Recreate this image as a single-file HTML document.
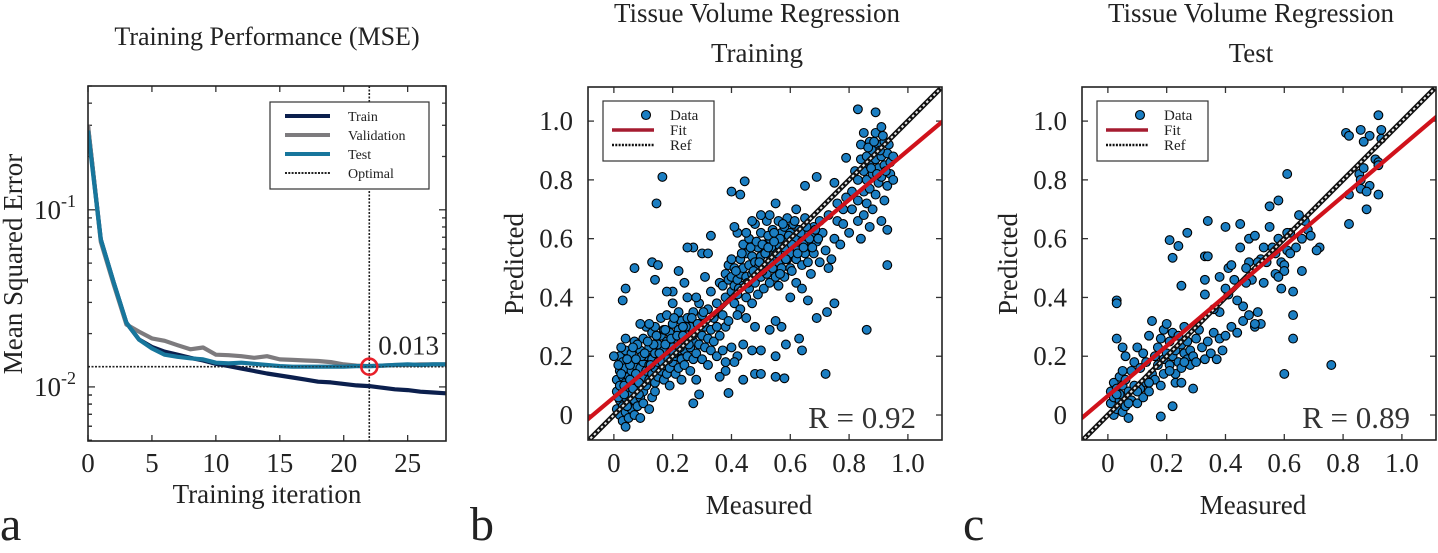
<!DOCTYPE html>
<html><head><meta charset="utf-8"><style>
html,body{margin:0;padding:0;background:#fff;}
svg, svg text{font-family:"Liberation Serif","DejaVu Serif","Noto Serif CJK SC",serif;}
</style></head><body>
<svg id="fig" width="1438" height="548" viewBox="0 0 1438 548" xmlns="http://www.w3.org/2000/svg">
<defs>
<clipPath id="clipA"><rect x="88" y="86" width="358" height="355"/></clipPath>
<clipPath id="clipB"><rect x="588" y="87" width="354" height="353"/></clipPath>
<clipPath id="clipC"><rect x="1082" y="87" width="354" height="353"/></clipPath>
</defs>
<g id="gA"></g>
<g id="gB"></g>
<g id="gC"></g>
</svg>
<script>
// ---------- Panel A data ----------
const iters = [0,1,2,3,4,5,6,7,8,9,10,11,12,13,14,15,16,17,18,19,20,21,22,23,24,25,26,27,28];
const trainMSE = [0.295,0.068,0.039,0.023,0.0185,0.0168,0.0158,0.0152,0.0146,0.0141,0.0135,0.0131,0.0127,0.0123,0.0119,0.0116,0.0113,0.0110,0.0107,0.0106,0.0104,0.0102,0.0101,0.0099,0.0097,0.0096,0.0094,0.0093,0.0092];
const valMSE = [0.30,0.066,0.038,0.0225,0.0205,0.0188,0.0182,0.0172,0.0163,0.0167,0.0152,0.0151,0.0149,0.0146,0.0149,0.0143,0.0142,0.0141,0.0140,0.0138,0.0134,0.0132,0.0131,0.0132,0.0133,0.0133,0.0134,0.0134,0.0134];
const testMSE = [0.28,0.068,0.039,0.023,0.0185,0.0165,0.0152,0.0148,0.0145,0.0143,0.0137,0.0136,0.0137,0.0135,0.0133,0.0131,0.0130,0.0130,0.0130,0.0130,0.0130,0.0131,0.0131,0.0132,0.0133,0.0134,0.0133,0.0134,0.0134];
const bestEpoch = [22];
const bestValue = [0.013];
const xTicksA = [0,5,10,15,20,25];

// ---------- Panel B data (Measured, Predicted) ----------
const trainMeasured = [0.01,0.01,0.01,0.02,0.02,0.02,0.02,0.03,0.03,0.03,0.03,0.03,0.04,0.04,0.04,0.04,0.04,0.05,0.05,0.05,0.05,0.05,0.06,0.06,0.06,0.06,0.06,0.07,0.07,0.07,0.07,0.07,0.08,0.08,0.08,0.08,0.09,0.09,0.09,0.09,0.09,0.10,0.10,0.10,0.10,0.10,0.0,0.02,0.04,0.11,0.08,0.12,0.13,0.14,
0.11,0.11,0.11,0.12,0.12,0.12,0.13,0.13,0.13,0.14,0.14,0.14,0.14,0.15,0.15,0.15,0.16,0.16,0.16,0.16,0.17,0.17,0.17,0.17,0.18,0.18,0.18,0.18,0.19,0.19,0.19,0.19,0.20,0.20,0.20,0.20,0.21,0.21,0.21,0.22,0.22,0.22,0.22,0.23,0.23,0.23,0.23,0.24,0.24,0.24,0.25,0.25,0.25,0.25,0.26,0.26,0.26,0.27,0.27,0.27,0.28,0.28,0.28,0.29,0.29,0.29,0.30,0.30,0.30,0.31,0.31,0.32,0.32,0.32,0.33,0.33,0.33,0.34,0.34,0.35,0.35,0.35,0.36,0.36,0.37,0.37,0.38,0.38,0.27,0.25,0.13,0.15,0.22,0.30,0.33,0.20,0.24,0.18,0.14,0.28,0.31,0.32,0.12,0.09,
0.37,0.38,0.38,0.39,0.39,0.40,0.40,0.40,0.41,0.41,0.41,0.42,0.42,0.42,0.43,0.43,0.43,0.44,0.44,0.44,0.45,0.45,0.45,0.46,0.46,0.46,0.47,0.47,0.47,0.48,0.48,0.48,0.49,0.49,0.49,0.50,0.50,0.50,0.51,0.51,0.51,0.52,0.52,0.52,0.53,0.53,0.53,0.54,0.54,0.54,0.55,0.55,0.55,0.56,0.56,0.56,0.57,0.57,0.57,0.58,0.58,0.58,0.59,0.59,0.60,0.60,0.60,0.61,0.61,0.62,0.62,0.62,0.63,0.63,0.64,0.64,0.65,0.65,0.65,0.66,0.66,0.67,0.67,0.68,0.68,0.69,0.70,0.70,0.71,0.72,0.73,0.74,0.75,0.76,0.77,0.78,0.76,0.73,0.60,0.64,0.66,0.55,0.53,0.50,0.47,0.45,0.41,0.62,0.59,0.56,0.42,0.45,0.39,0.48,0.44,0.47,0.40,0.42,0.38,0.36,0.41,
0.80,0.81,0.81,0.82,0.83,0.83,0.83,0.84,0.84,0.85,0.85,0.85,0.85,0.86,0.86,0.86,0.87,0.87,0.87,0.87,0.88,0.88,0.88,0.89,0.89,0.89,0.90,0.90,0.90,0.91,0.91,0.91,0.91,0.92,0.92,0.92,0.93,0.93,0.93,0.94,0.94,0.95,0.95,0.79,0.78,0.84,
0.83,0.89,0.165,0.145,0.40,0.43,0.445,0.69,0.65,0.75,0.79,0.07,0.04,0.03,0.86,0.72,0.93,0.69,0.725,0.75,0.58,0.55,0.48,0.50,0.44,0.39,0.27,0.29,0.64,0.63,0.55,0.585,0.57,0.55,0.53,0.50,0.04,
0.015,0.025,0.035,0.045,0.055,0.065,0.075,0.085,0.095,0.015,0.025,0.035,0.045,0.055,0.065,0.075,0.085,0.105,0.125,0.135,0.155,0.165,0.175,0.185,0.195,0.205,0.215,0.225,0.235,0.245,0.255,0.265,0.115,0.145,0.175,0.205,0.235,0.265,0.285,0.305,
0.415,0.425,0.435,0.455,0.465,0.475,0.485,0.495,0.505,0.515,0.525,0.535,0.545,0.555,0.565,0.575,0.585,0.595,0.605,0.615,0.625,0.635,0.645,0.655,0.665,0.675,0.685,0.695,0.505,0.525,0.545,0.565,0.585,0.605,0.625,0.645,0.865,0.875,0.885,0.895,0.905,0.915,0.925,0.935];
const trainPredicted = [0.02,0.08,0.12,0.0,0.05,0.15,0.20,-0.02,0.03,0.09,0.13,0.18,0.01,0.06,0.11,0.16,0.22,-0.01,0.04,0.08,0.13,0.19,0.02,0.07,0.10,0.15,0.21,0.0,0.05,0.12,0.17,0.25,0.03,0.09,0.14,0.19,-0.01,0.06,0.11,0.16,0.22,0.04,0.08,0.13,0.18,0.26,0.20,0.10,0.26,0.30,0.24,0.02,0.06,0.08,
0.10,0.15,0.20,0.12,0.17,0.23,0.14,0.19,0.28,0.11,0.16,0.21,0.30,0.13,0.18,0.24,0.15,0.20,0.27,0.33,0.12,0.17,0.22,0.29,0.14,0.19,0.25,0.34,0.10,0.16,0.21,0.28,0.18,0.23,0.31,0.38,0.14,0.20,0.26,0.16,0.22,0.29,0.35,0.12,0.19,0.25,0.32,0.17,0.22,0.28,0.20,0.26,0.33,0.40,0.15,0.23,0.30,0.19,0.25,0.35,0.21,0.28,0.12,0.24,0.31,0.38,0.19,0.27,0.34,0.23,0.30,0.17,0.26,0.36,0.22,0.29,0.42,0.25,0.33,0.20,0.30,0.38,0.27,0.45,0.22,0.34,0.18,0.30,0.57,0.57,0.52,0.51,0.49,0.55,0.61,0.42,0.45,0.42,0.46,0.40,0.47,0.55,0.31,0.31,
0.44,0.48,0.40,0.46,0.51,0.42,0.47,0.53,0.38,0.44,0.50,0.46,0.41,0.62,0.48,0.53,0.36,0.44,0.50,0.58,0.40,0.47,0.55,0.43,0.51,0.60,0.38,0.48,0.54,0.45,0.52,0.65,0.41,0.50,0.57,0.47,0.54,0.62,0.43,0.51,0.58,0.48,0.55,0.66,0.45,0.52,0.60,0.50,0.57,0.63,0.47,0.54,0.61,0.52,0.58,0.44,0.55,0.62,0.50,0.57,0.64,0.47,0.53,0.60,0.55,0.62,0.50,0.58,0.65,0.53,0.60,0.45,0.56,0.63,0.51,0.59,0.55,0.62,0.67,0.52,0.58,0.61,0.48,0.55,0.64,0.59,0.52,0.66,0.62,0.56,0.50,0.53,0.60,0.66,0.58,0.70,0.72,0.68,0.40,0.43,0.39,0.72,0.68,0.68,0.66,0.62,0.64,0.70,0.67,0.66,0.34,0.33,0.32,0.30,0.24,0.22,0.23,0.20,0.15,0.13,0.18,
0.62,0.70,0.76,0.83,0.66,0.73,0.80,0.87,0.92,0.68,0.76,0.83,0.96,0.72,0.80,0.88,0.64,0.77,0.85,0.93,0.70,0.82,0.90,0.75,0.87,0.96,0.79,0.84,0.92,0.66,0.81,0.88,0.98,0.73,0.85,0.93,0.78,0.89,0.63,0.82,0.86,0.88,0.80,0.74,0.65,0.60,
1.04,1.03,0.81,0.72,0.76,0.75,0.795,0.81,0.78,0.79,0.875,0.50,0.43,0.39,0.29,0.14,0.51,0.33,0.35,0.38,0.125,0.13,0.14,0.14,0.12,0.075,0.04,0.07,0.22,0.26,0.20,0.24,0.30,0.32,0.29,0.22,-0.04,
0.06,0.14,0.10,0.03,0.17,0.09,0.14,0.07,0.20,0.17,0.23,0.07,0.19,0.12,0.23,0.19,0.11,0.21,0.17,0.24,0.21,0.18,0.24,0.19,0.26,0.21,0.27,0.23,0.27,0.30,0.24,0.27,0.25,0.27,0.29,0.33,0.30,0.33,0.31,0.35,
0.49,0.43,0.55,0.45,0.57,0.49,0.59,0.52,0.58,0.55,0.61,0.57,0.62,0.55,0.60,0.65,0.53,0.61,0.58,0.66,0.56,0.62,0.58,0.64,0.60,0.57,0.63,0.60,0.49,0.57,0.59,0.48,0.53,0.49,0.55,0.57,0.91,0.84,0.93,0.82,0.90,0.95,0.83,0.92];

// ---------- Panel C data (Measured, Predicted) ----------
const testMeasured = [0.92,0.81,0.82,0.86,0.89,0.93,0.87,0.93,0.91,0.92,0.855,0.87,0.86,0.86,0.89,0.88,0.82,0.92,0.92,0.88,0.82,0.61,0.58,0.55,0.34,0.27,0.21,0.24,0.22,0.25,0.03,0.03,0.76,0.60,0.63,0.63,0.63,0.66,0.72,0.71,0.18,0.22,0.29,0.23,0.25,0.40,0.45,0.38,0.41,0.41,0.46,0.33,0.34,0.33,0.33,
0.45,0.48,0.50,0.48,0.52,0.53,0.54,0.57,0.58,0.59,0.61,0.62,0.64,0.65,0.66,0.68,0.69,0.67,0.55,0.56,0.60,0.62,0.49,0.51,0.53,0.57,0.59,0.60,0.47,0.44,0.42,0.40,0.38,0.36,0.50,0.52,0.47,0.43,0.58,0.61,
0.01,0.01,0.02,0.02,0.02,0.03,0.03,0.03,0.04,0.04,0.04,0.05,0.05,0.05,0.06,0.06,0.06,0.07,0.07,0.08,0.08,0.09,0.09,0.10,0.10,0.11,0.11,0.12,0.12,0.13,0.13,0.14,0.14,0.15,0.15,0.16,0.16,0.17,0.17,0.18,0.18,0.19,0.19,0.20,0.20,0.21,0.21,0.22,0.22,0.23,0.23,0.24,0.24,0.25,0.25,0.26,0.26,0.27,0.27,0.28,0.28,0.29,0.30,0.30,0.31,0.32,0.33,0.34,0.35,0.36,0.37,0.38,0.39,0.40,0.42,0.44,0.46,0.48,0.50,0.51,0.03,0.05,0.07,0.10,0.14,0.19,0.21,0.26];
const testPredicted = [1.02,0.96,0.95,0.97,0.95,0.97,0.93,0.94,0.87,0.86,0.82,0.84,0.80,0.77,0.78,0.76,0.75,0.75,0.85,0.70,0.65,0.82,0.73,0.71,0.66,0.62,0.595,0.575,0.535,0.44,0.39,0.38,0.17,0.14,0.42,0.34,0.26,0.49,0.57,0.56,-0.005,0.03,0.09,0.11,0.11,0.64,0.65,0.47,0.50,0.41,0.37,0.54,0.54,0.46,0.41,
0.57,0.60,0.61,0.52,0.53,0.57,0.52,0.55,0.60,0.52,0.56,0.62,0.57,0.68,0.60,0.63,0.61,0.66,0.64,0.57,0.51,0.55,0.46,0.52,0.45,0.48,0.43,0.49,0.45,0.39,0.51,0.43,0.35,0.36,0.30,0.31,0.50,0.46,0.47,0.62,
0.04,0.08,0.00,0.06,0.11,0.02,0.09,0.26,0.05,0.13,0.07,0.01,0.10,0.23,0.03,0.12,0.20,-0.01,0.08,0.05,0.15,0.10,0.18,0.04,0.23,0.09,0.16,0.06,0.21,0.11,0.18,0.08,0.27,0.14,0.32,0.20,0.12,0.17,0.23,0.10,0.26,0.19,0.29,0.21,0.31,0.17,0.25,0.20,0.28,0.14,0.22,0.18,0.27,0.16,0.24,0.21,0.30,0.19,0.25,0.22,0.17,0.20,0.26,0.18,0.29,0.23,0.19,0.25,0.21,0.28,0.19,0.26,0.22,0.27,0.30,0.28,0.32,0.34,0.31,0.35,0.07,0.15,0.04,0.08,0.11,0.14,0.15,0.18];

const tickVals = [0,0.2,0.4,0.6,0.8,1.0];
const tickLabels = ["0","0.2","0.4","0.6","0.8","1.0"];
const fitB = [0.06,0.84];   // intercept, slope
const fitC = [0.065,0.85];
const rB = ["R = 0.92"];
const rC = ["R = 0.89"];

const NS = "http://www.w3.org/2000/svg";
const FONT = '"Liberation Serif","DejaVu Serif","Noto Serif CJK SC",serif';
function mk(parent, tag, attrs, txt){
  const e = document.createElementNS(NS, tag);
  for (const k in attrs) e.setAttribute(k, attrs[k]);
  if (tag === 'text') e.style.fontFamily = FONT;
  if (txt !== undefined) e.textContent = txt;
  parent.appendChild(e);
  return e;
}

// ================= PANEL A =================
(function(){
  const g = document.getElementById('gA');
  const L=88,R=446,T=86,B=441;
  const xs = v => L + (v-0)/(28-0)*(R-L);
  const lyTop = Math.log10(0.5), lyBot = Math.log10(0.00495);
  const ys = v => T + (lyTop - Math.log10(v))/(lyTop-lyBot)*(B-T);

  const title = mk(g,'text',{x:267,y:45,'text-anchor':'middle','font-size':26,fill:'#222'},'Training Performance (MSE)');
  
  

  xTicksA.forEach(v=>{
    const x = xs(v);
    const t1 = mk(g,'line',{x1:x,y1:B,x2:x,y2:B-6,stroke:'#333','stroke-width':1.3});
    
    
    const t2 = mk(g,'line',{x1:x,y1:T,x2:x,y2:T+6,stroke:'#333','stroke-width':1.3});
    
    
    const lb = mk(g,'text',{x:x,y:472,'text-anchor':'middle','font-size':27,fill:'#222'},String(v));
    
    
  });
  [0.01,0.1].forEach(dec=>{
    for(let m=1;m<10;m++){
      const v = dec*m;
      if (v<0.00495||v>0.5) continue;
      const y = ys(v);
      const len = m===1?7:4;
      const tk = mk(g,'line',{x1:L,y1:y,x2:L+len,y2:y,stroke:'#333','stroke-width':1.3});
      
      
      const tk2 = mk(g,'line',{x1:R,y1:y,x2:R-len,y2:y,stroke:'#333','stroke-width':1.3});
      
      
    }
    for(let m=5;m<10;m++){
      const v=0.001*m; if(v<0.00495) continue;
      const y=ys(v);
      const tk = mk(g,'line',{x1:L,y1:y,x2:L+4,y2:y,stroke:'#333','stroke-width':1.3});
      
      
    }
  });
  [[0.1,'-1'],[0.01,'-2']].forEach(([v,e])=>{
    const y = ys(v);
    const t = mk(g,'text',{x:34,y:y+9,'font-size':27,fill:'#222'});
    
    
    mk(t,'tspan',{},'10');
    mk(t,'tspan',{dy:-12,'font-size':18},e);
  });
  const yl = mk(g,'text',{x:0,y:0,transform:'translate(22,264) rotate(-90)','text-anchor':'middle','font-size':27,fill:'#222'},'Mean Squared Error');
  
  
  const xl = mk(g,'text',{x:267,y:503,'text-anchor':'middle','font-size':27,fill:'#222'},'Training iteration');
  
  

  const plot = mk(g,'g',{'clip-path':'url(#clipA)'});
  
  
  const oh = mk(plot,'line',{x1:L,y1:ys(bestValue[0]),x2:R,y2:ys(bestValue[0]),stroke:'#222','stroke-width':1.6,'stroke-dasharray':'2,1.5'});
  
  
  const ov = mk(plot,'line',{x1:xs(bestEpoch[0]),y1:T,x2:xs(bestEpoch[0]),y2:B,stroke:'#222','stroke-width':1.6,'stroke-dasharray':'2,1.5'});
  
  

  function series(arr,color,name){
    const d = arr.map((v,i)=>(i?'L':'M')+xs(iters[i]).toFixed(1)+','+ys(v).toFixed(1)).join(' ');
    const p = mk(plot,'path',{d:d,fill:'none',stroke:color,'stroke-width':4.2,'stroke-linejoin':'round'});
    
    
  }
  series(trainMSE,'#0b1f4d','train-line');
  series(valMSE,'#7d7b7e','validation-line');
  series(testMSE,'#17769c','test-line');
  const oh2 = mk(plot,'line',{x1:L,y1:ys(bestValue[0]),x2:R,y2:ys(bestValue[0]),stroke:'#222','stroke-width':1.4,'stroke-dasharray':'2,1.5','opacity':0.6});
  
  

  const c = mk(g,'circle',{cx:xs(bestEpoch[0]),cy:ys(bestValue[0]),r:8,fill:'none',stroke:'#e8202a','stroke-width':2.6});
  
  
  const bv = mk(g,'text',{x:xs(bestEpoch[0])+9,y:ys(bestValue[0])-12,'font-size':27,fill:'#222'},String(bestValue[0]));
  
  

  const box = mk(g,'rect',{x:L,y:T,width:R-L,height:B-T,fill:'none',stroke:'#222','stroke-width':1.6});
  
  

  const lg = mk(g,'g',{});
  
  
  const lr = mk(lg,'rect',{x:270,y:102,width:159,height:87,fill:'#fff',stroke:'#333','stroke-width':1.2});
  
  
  [['Train','#0b1f4d',''],['Validation','#7d7b7e',''],['Test','#17769c',''],['Optimal','#222','2,1.3']].forEach((e,i)=>{
    const y = 116+i*19;
    const ln = mk(lg,'line',{x1:285,y1:y,x2:330,y2:y,stroke:e[1],'stroke-width':e[2]?2:4,'stroke-dasharray':e[2]||'none'});
    
    
    const tx = mk(lg,'text',{x:348,y:y+5,'font-size':14,fill:'#222'},e[0]);
    
    
  });
})();

// ================= SCATTER PANELS =================
function scatterPanel(gid, L, T, R, B, clip, mx, py, fit, rText, titleLines){
  const g = document.getElementById(gid);
  const x0=-0.088, x1=1.116, y0=-0.085, y1=1.116;
  const xs = v => L + (v-x0)/(x1-x0)*(R-L);
  const ys = v => B - (v-y0)/(y1-y0)*(B-T);
  const cx = (L+R)/2;
  titleLines.forEach((t,i)=>{
    const tt = mk(g,'text',{x:cx-8,y:22+i*40,'text-anchor':'middle','font-size':27,fill:'#222'},t);
    
    
  });
  tickVals.forEach((v,i)=>{
    const x = xs(v), y = ys(v);
    const a = mk(g,'line',{x1:x,y1:B,x2:x,y2:B-6,stroke:'#333','stroke-width':1.3});
    
    
    const a2 = mk(g,'line',{x1:x,y1:T,x2:x,y2:T+6,stroke:'#333','stroke-width':1.3});
    
    
    const b = mk(g,'line',{x1:L,y1:y,x2:L+6,y2:y,stroke:'#333','stroke-width':1.3});
    
    
    const b2 = mk(g,'line',{x1:R,y1:y,x2:R-6,y2:y,stroke:'#333','stroke-width':1.3});
    
    
    const xl = mk(g,'text',{x:x,y:472,'text-anchor':'middle','font-size':27,fill:'#222'},tickLabels[i]);
    
    
    const yl = mk(g,'text',{x:L-15,y:y+9,'text-anchor':'end','font-size':27,fill:'#222'},tickLabels[i]);
    
    
  });
  const xt = mk(g,'text',{x:cx-6,y:514,'text-anchor':'middle','font-size':27,fill:'#222'},'Measured');
  
  
  const yt = mk(g,'text',{x:0,y:0,transform:'translate('+(L-65)+',264) rotate(-90)','text-anchor':'middle','font-size':27,fill:'#222'},'Predicted');
  
  

  const plot = mk(g,'g',{'clip-path':'url(#'+clip+')'});
  
  
  mx.forEach((v,i)=>{
    const c = mk(plot,'circle',{cx:xs(v).toFixed(1),cy:ys(py[i]).toFixed(1),r:4.4,fill:'#1b7ec2',stroke:'#000','stroke-width':1.1});
    
    
  });
  const ref1 = mk(plot,'line',{x1:xs(-0.2),y1:ys(-0.2),x2:xs(1.3),y2:ys(1.3),stroke:'#111','stroke-width':5});
  
  
  const ref2 = mk(plot,'line',{x1:xs(-0.2),y1:ys(-0.2),x2:xs(1.3),y2:ys(1.3),stroke:'#e8e8e8','stroke-width':2,'stroke-dasharray':'2.5,2.5'});
  
  
  const fl = mk(plot,'line',{x1:xs(-0.2),y1:ys(fit[0]+fit[1]*-0.2),x2:xs(1.3),y2:ys(fit[0]+fit[1]*1.3),stroke:'#d0121b','stroke-width':4.2});
  
  

  const rt = mk(g,'text',{x:R-26,y:428,'text-anchor':'end','font-size':31,fill:'#333'},rText);
  
  

  const box = mk(g,'rect',{x:L,y:T,width:R-L,height:B-T,fill:'none',stroke:'#222','stroke-width':1.6});
  
  

  const lg = mk(g,'g',{});
  
  
  const lx = L+15;
  const lr = mk(lg,'rect',{x:lx,y:101,width:111,height:60,fill:'#fff',stroke:'#333','stroke-width':1.2});
  
  
  const lc = mk(lg,'circle',{cx:lx+43,cy:115,r:4.5,fill:'#1b7ec2',stroke:'#000','stroke-width':1.1});
  
  
  const lf = mk(lg,'line',{x1:lx+9,y1:130,x2:lx+51,y2:130,stroke:'#a51c30','stroke-width':3.5});
  
  
  const lref = mk(lg,'line',{x1:lx+9,y1:145,x2:lx+51,y2:145,stroke:'#111','stroke-width':2.5,'stroke-dasharray':'2,1.3'});
  
  
  ['Data','Fit','Ref'].forEach((t,i)=>{
    const tx = mk(lg,'text',{x:lx+67,y:120+i*15,'font-size':15,fill:'#222'},t);
    
    
  });
}
scatterPanel('gB',588,87,942,440,'clipB',trainMeasured,trainPredicted,fitB,rB[0],['Tissue Volume Regression','Training']);
scatterPanel('gC',1082,87,1436,440,'clipC',testMeasured,testPredicted,fitC,rC[0],['Tissue Volume Regression','Test']);

const svg = document.getElementById('fig');
[['a',0],['b',470],['c',963]].forEach(([t,x])=>{
  const l = mk(svg,'text',{x:x,y:540,'font-size':48,fill:'#222'},t);
  
  
});
</script>
</body></html>
